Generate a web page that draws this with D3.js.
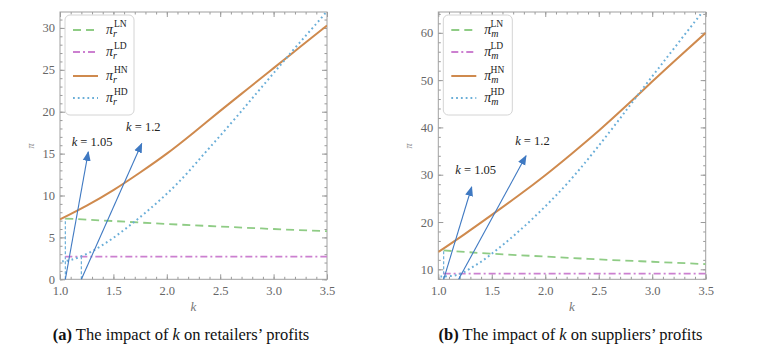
<!DOCTYPE html>
<html lang="en">
<head>
<meta charset="UTF-8">
<title>Impact of k on profits</title>
<script src="https://d3js.org/d3.v7.min.js"></script>
<style>
  body { margin: 0; background: #fff; }
  svg { display: block; }
  .tick line { stroke: #9a9a9a; }
</style>
</head>
<body>
<script>
// ---- data ----
// (a) retailers
var kHN   = [1.0, 1.25, 1.5, 1.75, 2.0, 2.25, 2.5, 2.75, 3.0, 3.25, 3.5];
var rHN   = [7.15, 8.8, 10.65, 12.75, 15.0, 17.5, 20.1, 22.65, 25.2, 27.75, 30.3];
var kLN   = [1.05, 1.5, 2.0, 2.5, 3.0, 3.5];
var rLN   = [7.25, 6.95, 6.6, 6.3, 6.0, 5.75];
var kLD   = [1.05, 3.5];
var rLD   = [2.7, 2.7];
var kHD   = [1.02, 1.1, 1.2, 1.3, 1.4, 1.5, 1.6, 1.7, 1.8, 1.9, 2.0, 2.1, 2.2, 2.3, 2.4, 2.6, 2.8, 3.0, 3.2, 3.4, 3.5];
var rHD   = [2.15, 2.3, 2.75, 3.35, 4.1, 4.95, 5.9, 6.9, 7.95, 9.05, 10.2, 11.45, 12.8, 14.25, 15.7, 18.6, 21.6, 24.6, 27.6, 30.5, 32.0];
// (b) suppliers
var mHN   = [13.65, 17.5, 21.5, 25.6, 29.9, 34.5, 39.3, 44.4, 49.7, 54.9, 60.0];
var mLN   = [14.0, 13.3, 12.7, 12.1, 11.6, 11.1];
var mLD   = [9.1, 9.1];
var mHD   = [8.5, 8.55, 9.0, 10.2, 11.6, 13.3, 15.1, 17.0, 19.0, 21.1, 23.3, 25.6, 28.0, 30.6, 33.3, 39.0, 44.9, 50.8, 56.6, 62.4, 65.2];

// threshold k values and arrow annotations [k tail, k head, value head, label k, label value]
var kMarks = [1.05, 1.2];
var rMarkTop = [7.25, 2.75];
var mMarkTop = [14.0, 9.2];
var rArrows = [[1.05, 1.265, 15.2, 1.30, 15.9], [1.2, 1.765, 16.2, 1.78, 17.7]];
var mArrows = [[1.05, 1.312, 27.4, 1.35, 30.2], [1.19, 1.82, 34.0, 1.88, 36.2]];
var arrowLabels = ["1.05", "1.2"];

var seriesNames = ["LN", "LD", "HN", "HD"];
var captions = [["a", " on retailers\u2019 profits"], ["b", " on suppliers\u2019 profits"]];

var xTicks = [1.0, 1.5, 2.0, 2.5, 3.0, 3.5];
var rTicks = [0, 5, 10, 15, 20, 25, 30];
var mTicks = [10, 20, 30, 40, 50, 60];

// ---- styles ----
var serif = "'Liberation Serif', 'DejaVu Serif', serif";
var colors = {LN: "#8fcc85", LD: "#cc80d0", HN: "#cf8a4e", HD: "#6aaed8"};
var dashes = {LN: "8,5", LD: "7,3,2,3", HN: null, HD: "1.8,3"};
var widths = {LN: 1.8, LD: 1.8, HN: 2, HD: 2};
var arrowColor = "#3f79c2";

var width = 764, height = 351;
var svg = d3.select("body").append("svg")
    .attr("width", width).attr("height", height)
    .style("font-family", serif);

var defs = svg.append("defs");
defs.append("marker")
    .attr("id", "head")
    .attr("markerUnits", "userSpaceOnUse")
    .attr("viewBox", "0 0 10 10")
    .attr("refX", 9).attr("refY", 5)
    .attr("markerWidth", 10).attr("markerHeight", 10)
    .attr("orient", "auto")
  .append("path")
    .attr("d", "M0,1 L10,5 L0,9 Z")
    .attr("fill", arrowColor);

function pairs(ks, vs) {
    return ks.map(function (k, i) { return [k, vs[i]]; });
}

function drawPanel(p) {
    var g = svg.append("g");
    var x = d3.scaleLinear().domain([1, 3.5]).range([p.left, p.right]);
    var y = d3.scaleLinear().domain(p.ydom).range([p.bottom, p.top]);

    var clipId = "clip" + p.id;
    defs.append("clipPath").attr("id", clipId)
      .append("rect")
        .attr("x", p.left).attr("y", p.top)
        .attr("width", p.right - p.left).attr("height", p.bottom - p.top);

    // minor ticks
    var xMinor = d3.range(10, 36).map(function (d) { return d / 10; });
    var yMinor = d3.range(Math.ceil(p.ydom[0] / p.yMinorStep), Math.floor(p.ydom[1] / p.yMinorStep) + 1)
        .map(function (d) { return d * p.yMinorStep; });

    function axisSet(maker, scale, values, size, pos, fmt) {
        var a = maker(scale).tickValues(values).tickSize(size).tickPadding(4);
        a.tickFormat(fmt || "");
        var ax = g.append("g").attr("transform", pos).call(a)
            .attr("font-family", serif).attr("font-size", 12.5);
        ax.select(".domain").remove();
        ax.selectAll("text").attr("fill", "#666");
        return ax;
    }
    var fx = d3.format(".1f");
    axisSet(d3.axisBottom, x, xMinor, -2.5, "translate(0," + p.bottom + ")");
    axisSet(d3.axisTop, x, xMinor, -2.5, "translate(0," + p.top + ")");
    axisSet(d3.axisLeft, y, yMinor, -2.5, "translate(" + p.left + ",0)");
    axisSet(d3.axisRight, y, yMinor, -2.5, "translate(" + p.right + ",0)");
    axisSet(d3.axisBottom, x, xTicks, -5, "translate(0," + p.bottom + ")", fx)
        .selectAll("text").attr("dy", "0.95em");
    axisSet(d3.axisTop, x, xTicks, -5, "translate(0," + p.top + ")");
    axisSet(d3.axisLeft, y, p.yTicks, -5, "translate(" + p.left + ",0)", d3.format("d"))
        .selectAll("text").attr("dx", "-1px");
    axisSet(d3.axisRight, y, p.yTicks, -5, "translate(" + p.right + ",0)");

    g.append("rect")
        .attr("x", p.left).attr("y", p.top)
        .attr("width", p.right - p.left).attr("height", p.bottom - p.top)
        .attr("fill", "none").attr("stroke", "#a0a0a0").attr("stroke-width", 1);

    // axis labels
    g.append("text")
        .attr("x", (p.left + p.right) / 2).attr("y", 311)
        .attr("text-anchor", "middle").attr("font-style", "italic")
        .attr("font-size", 13).attr("fill", "#777").text("k");
    g.append("text")
        .attr("transform", "translate(" + (p.left - 26) + "," + 146 + ") rotate(-90)")
        .attr("text-anchor", "middle").attr("font-style", "italic")
        .attr("font-size", 10).attr("fill", "#888").text("\u03c0");

    var line = d3.line()
        .x(function (d) { return x(d[0]); })
        .y(function (d) { return y(d[1]); })
        .curve(d3.curveNatural);

    var plot = g.append("g").attr("clip-path", "url(#" + clipId + ")");

    // threshold guides
    kMarks.forEach(function (k, i) {
        plot.append("line")
            .attr("x1", x(k)).attr("x2", x(k))
            .attr("y1", y(p.ydom[0])).attr("y2", y(p.markTop[i]))
            .attr("stroke", colors.HD).attr("stroke-width", 1.2)
            .attr("stroke-dasharray", "3,2");
    });

    p.series.forEach(function (s) {
        plot.append("path")
            .datum(pairs(s.k, s.v))
            .attr("d", line)
            .attr("fill", "none")
            .attr("stroke", colors[s.name])
            .attr("stroke-width", widths[s.name])
            .attr("stroke-dasharray", dashes[s.name]);
    });

    // arrows
    p.arrows.forEach(function (a, i) {
        g.append("line")
            .attr("x1", x(a[0])).attr("y1", y(p.ydom[0]))
            .attr("x2", x(a[1])).attr("y2", y(a[2]))
            .attr("stroke", arrowColor).attr("stroke-width", 1.1)
            .attr("marker-end", "url(#head)");
        var t = g.append("text")
            .attr("x", x(a[3])).attr("y", y(a[4]))
            .attr("text-anchor", "middle").attr("font-size", 12.5).attr("fill", "#222");
        t.append("tspan").attr("font-style", "italic").text("k");
        t.append("tspan").text(" = " + arrowLabels[i]);
    });

    // legend
    var lg = g.append("g").attr("transform", "translate(" + (p.left + 5) + "," + (p.top + 3) + ")");
    lg.append("rect")
        .attr("width", 69).attr("height", 100).attr("rx", 5)
        .attr("fill", "#fff").attr("stroke", "#d4d4d4").attr("stroke-width", 1);
    seriesNames.forEach(function (n, i) {
        var yy = [15, 37, 61, 83][i];
        lg.append("line")
            .attr("x1", 8).attr("x2", 33).attr("y1", yy).attr("y2", yy)
            .attr("stroke", colors[n]).attr("stroke-width", widths[n])
            .attr("stroke-dasharray", dashes[n]);
        var t = lg.append("text")
            .attr("x", 41).attr("y", yy + 4).attr("font-size", 14).attr("fill", "#222");
        t.append("tspan").attr("font-style", "italic").text("\u03c0");
        t.append("tspan").attr("font-style", "italic").attr("font-size", 10)
            .attr("dy", 3).text(p.sub);
        t.append("tspan").attr("font-size", 9.5).attr("dx", p.sub === "r" ? -3 : -8)
            .attr("dy", -10).text(n);
    });

    // caption
    var c = svg.append("text")
        .attr("x", p.capX).attr("y", 340)
        .attr("text-anchor", "middle").attr("font-size", 16.5).attr("fill", "#111");
    c.append("tspan").attr("font-weight", "bold").text("(" + p.caption[0] + ")");
    c.append("tspan").text(" The impact of ");
    c.append("tspan").attr("font-style", "italic").text("k");
    c.append("tspan").text(p.caption[1]);
}

drawPanel({
    id: "a", left: 60, right: 327, top: 12, bottom: 279.3, capX: 181,
    ydom: [0, 31.9], yTicks: rTicks, yMinorStep: 1, sub: "r",
    markTop: rMarkTop, arrows: rArrows, caption: captions[0],
    series: [
        {name: "LN", k: kLN, v: rLN},
        {name: "LD", k: kLD, v: rLD},
        {name: "HN", k: kHN, v: rHN},
        {name: "HD", k: kHD, v: rHD}
    ]
});

drawPanel({
    id: "b", left: 438.3, right: 705.7, top: 12, bottom: 279.3, capX: 570.5,
    ydom: [7.89, 64.4], yTicks: mTicks, yMinorStep: 2, sub: "m",
    markTop: mMarkTop, arrows: mArrows, caption: captions[1],
    series: [
        {name: "LN", k: kLN, v: mLN},
        {name: "LD", k: kLD, v: mLD},
        {name: "HN", k: kHN, v: mHN},
        {name: "HD", k: kHD, v: mHD}
    ]
});
</script>
</body>
</html>
